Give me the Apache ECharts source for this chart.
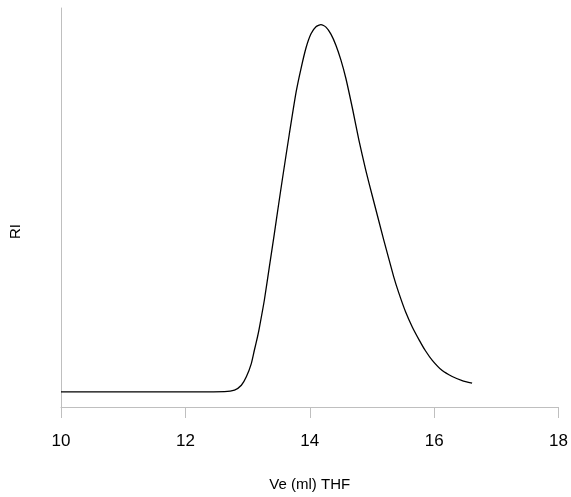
<!DOCTYPE html>
<html>
<head>
<meta charset="utf-8">
<script src="https://cdn.jsdelivr.net/npm/echarts@6/dist/echarts.min.js"></script>
<style>html,body{margin:0;padding:0;background:#fff}#c{width:571px;height:497px}</style>
</head>
<body>
<div id="c"></div>
<script>
const ve = [10.00, 11.43, 12.63, 12.79, 12.90, 12.98, 13.06, 13.11, 13.16, 13.19, 13.27, 13.35, 13.43, 13.50, 13.56, 13.67, 13.78, 13.86, 13.94, 14.02, 14.10, 14.18, 14.26, 14.34, 14.42, 14.50, 14.58, 14.69, 14.79, 14.90, 15.01, 15.19, 15.35, 15.43, 15.54, 15.65, 15.76, 15.86, 15.97, 16.13, 16.29, 16.45, 16.61];
const ri = [0.000, 0.000, 0.001, 0.005, 0.018, 0.041, 0.077, 0.114, 0.150, 0.175, 0.250, 0.340, 0.430, 0.511, 0.579, 0.700, 0.815, 0.880, 0.936, 0.974, 0.993, 0.999, 0.992, 0.973, 0.943, 0.903, 0.853, 0.768, 0.685, 0.603, 0.530, 0.413, 0.313, 0.270, 0.218, 0.176, 0.141, 0.112, 0.086, 0.058, 0.042, 0.031, 0.024];
const xTicks = [10, 12, 14, 16, 18];
const xName = 'Ve (ml) THF';
const yName = 'RI';

const chart = echarts.init(document.getElementById('c'), null, {renderer: 'canvas'});
chart.setOption({
  animation: false,
  backgroundColor: '#fff',
  grid: {left: 61, right: 11, top: 8, bottom: 90},
  graphic: [{
    type: 'text', left: 8, top: 224, rotation: Math.PI / 2,
    style: {text: yName, font: '15px "Liberation Sans"', fill: '#000'}
  }],
  xAxis: {
    type: 'value', min: xTicks[0], max: xTicks[xTicks.length - 1], interval: 2,
    name: xName, nameLocation: 'middle', nameGap: 70,
    nameTextStyle: {fontFamily: 'Liberation Sans', fontSize: 15, color: '#000'},
    axisLine: {show: true, onZero: false, lineStyle: {color: '#bfbfbf', width: 1}},
    axisTick: {show: true, length: 11, lineStyle: {color: '#bfbfbf'}},
    axisLabel: {fontFamily: 'Liberation Sans', fontSize: 17, color: '#000', margin: 26},
    splitLine: {show: false}
  },
  yAxis: {
    type: 'value', min: -0.041, max: 1.044,
    axisLine: {show: true, onZero: false, lineStyle: {color: '#bfbfbf', width: 1}},
    axisTick: {show: false},
    axisLabel: {show: false},
    splitLine: {show: false}
  },
  series: [{
    type: 'line',
    data: ve.map((v, i) => [v, ri[i]]),
    smooth: 0.2,
    showSymbol: false,
    lineStyle: {color: '#000', width: 1.3, join: 'round'}
  }]
});
</script>
</body>
</html>
